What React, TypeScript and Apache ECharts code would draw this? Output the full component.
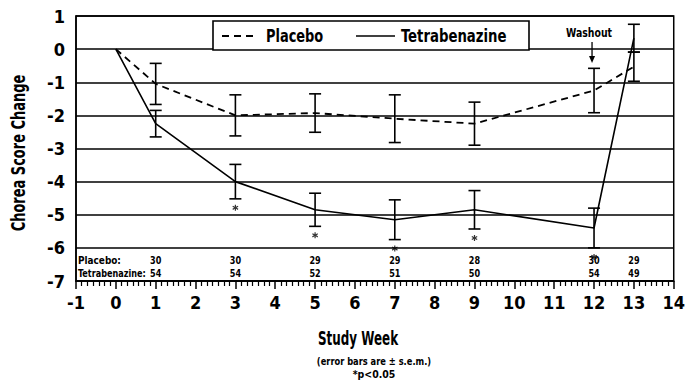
import React, { useEffect, useRef } from 'react';
import * as echarts from 'echarts';

const weeks = [0, 1, 3, 5, 7, 9, 12, 13];
const placeboMean = [0, -1.05, -2.0, -1.93, -2.1, -2.25, -1.25, -0.53];
const placeboSem = [0, 0.62, 0.62, 0.58, 0.72, 0.65, 0.67, 0.44];
const tetraMean = [0, -2.25, -4.0, -4.85, -5.15, -4.85, -5.4, 0.33];
const tetraSem = [0, 0.4, 0.52, 0.5, 0.6, 0.58, 0.6, 0.42];
const sigWeeks = [3, 5, 7, 9, 12];
const countWeeks = [1, 3, 5, 7, 9, 12, 13];
const placeboN = [30, 30, 29, 29, 28, 30, 29];
const tetraN = [54, 54, 52, 51, 50, 54, 49];
const X_MIN = -1;
const X_MAX = 14;
const Y_MIN = -7;
const Y_MAX = 1;
const washoutWeek = 12;

const F = "'DejaVu Sans Condensed', 'DejaVu Sans', sans-serif";
const ASTERISK =
  'path://M4,0L6,0L6,3.3L9,1.6L10,3.3L7,5L10,6.7L9,8.4L6,6.7L6,10L4,10L4,6.7L1,8.4L0,6.7L3,5L0,3.3L1,1.6L4,3.3Z';

const txt = (
  text: string,
  x: number,
  y: number,
  size: number,
  scaleX: number,
  align: string = 'left',
  extra: any = {}
) => ({
  type: 'text',
  x,
  y,
  scaleX,
  style: {
    text,
    x: 0,
    y: 0,
    align,
    verticalAlign: 'middle',
    fill: '#000',
    fontSize: size,
    fontWeight: 'bold',
    fontFamily: F,
  },
  ...extra,
});

export default function App() {
  const ref = useRef<HTMLDivElement>(null);
  useEffect(() => {
    const chart = echarts.init(ref.current!, null, { renderer: 'svg' });

    const errData = (mean: number[], sem: number[]) =>
      weeks
        .map((w, i) => [w, mean[i] - sem[i], mean[i] + sem[i]])
        .filter((d, i) => sem[i] > 0);

    const errRender = (params: any, api: any) => {
      const x = api.value(0);
      const top = api.coord([x, api.value(2)]);
      const bot = api.coord([x, api.value(1)]);
      const hw = 6;
      const st = { stroke: '#000', lineWidth: 1.6 };
      return {
        type: 'group',
        children: [
          { type: 'line', shape: { x1: top[0], y1: top[1], x2: bot[0], y2: bot[1] }, style: st },
          { type: 'line', shape: { x1: top[0] - hw, y1: top[1], x2: top[0] + hw, y2: top[1] }, style: st },
          { type: 'line', shape: { x1: bot[0] - hw, y1: bot[1], x2: bot[0] + hw, y2: bot[1] }, style: st },
        ],
      };
    };

    const starData = sigWeeks.map((w) => {
      const i = weeks.indexOf(w);
      return [w, tetraMean[i] - tetraSem[i]];
    });

    const option: any = {
      animation: false,
      backgroundColor: '#fff',
      grid: {
        left: 76,
        right: 2,
        top: 16,
        bottom: 111,
        show: true,
        borderColor: '#000',
        borderWidth: 1.5,
        backgroundColor: 'transparent',
      },
      xAxis: {
        type: 'value',
        min: X_MIN,
        max: X_MAX,
        interval: 1,
        axisLine: { show: true, onZero: false, lineStyle: { color: '#000', width: 1.5 } },
        axisTick: { show: true, length: 8, lineStyle: { color: '#000', width: 1.5 } },
        minorTick: { show: true, splitNumber: 7, length: 5, lineStyle: { color: '#000', width: 1.2 } },
        splitLine: { show: false },
        axisLabel: {
          color: '#000',
          fontSize: 18,
          fontWeight: 'bold',
          fontFamily: F,
          margin: 12,
          showMaxLabel: true,
        },
      },
      yAxis: {
        type: 'value',
        min: Y_MIN,
        max: Y_MAX,
        interval: 1,
        axisLine: { show: true, onZero: false, lineStyle: { color: '#000', width: 1.5 } },
        axisTick: { show: false },
        splitLine: { show: true, lineStyle: { color: '#000', width: 1.5 } },
        axisLabel: {
          color: '#000',
          fontSize: 18,
          fontWeight: 'bold',
          fontFamily: F,
          margin: 11,
        },
      },
      series: [
        {
          name: 'Placebo',
          type: 'line',
          data: weeks.map((w, i) => [w, placeboMean[i]]),
          symbol: 'none',
          lineStyle: { color: '#000', width: 1.8, type: [7, 5] },
          z: 3,
        },
        {
          name: 'Tetrabenazine',
          type: 'line',
          data: weeks.map((w, i) => [w, tetraMean[i]]),
          symbol: 'none',
          lineStyle: { color: '#000', width: 1.6 },
          z: 3,
        },
        {
          name: 'Placebo s.e.m.',
          type: 'custom',
          data: errData(placeboMean, placeboSem),
          renderItem: errRender,
          z: 4,
        },
        {
          name: 'Tetrabenazine s.e.m.',
          type: 'custom',
          data: errData(tetraMean, tetraSem),
          renderItem: errRender,
          z: 4,
        },
        {
          name: 'p<0.05',
          type: 'scatter',
          data: starData,
          symbol: ASTERISK,
          symbolSize: 6,
          symbolOffset: [0, 9],
          itemStyle: { color: '#000' },
          z: 4,
        },
        {
          name: 'N',
          type: 'custom',
          data: countWeeks.map((w, i) => [w, Y_MIN, placeboN[i], tetraN[i]]),
          renderItem: (params: any, api: any) => {
            const p = api.coord([api.value(0), api.value(1)]);
            return {
              type: 'group',
              children: [
                txt(String(api.value(2)), p[0], p[1] - 21, 11, 0.82, 'center'),
                txt(String(api.value(3)), p[0], p[1] - 8, 11, 0.82, 'center'),
              ],
            };
          },
          z: 4,
        },
        {
          name: 'Washout',
          type: 'custom',
          data: [[washoutWeek, Y_MAX]],
          clip: false,
          renderItem: (params: any, api: any) => {
            const p = api.coord([api.value(0), api.value(1)]);
            const ax = p[0] - 2;
            return {
              type: 'group',
              children: [
                txt('Washout', ax - 3, p[1] + 17, 13, 0.8, 'center'),
                { type: 'line', shape: { x1: ax, y1: p[1] + 26, x2: ax, y2: p[1] + 44 }, style: { stroke: '#000', lineWidth: 1.3 } },
                {
                  type: 'polygon',
                  shape: { points: [[ax - 3, p[1] + 40], [ax + 3, p[1] + 40], [ax, p[1] + 47]] },
                  style: { fill: '#000' },
                },
              ],
            };
          },
          z: 5,
        },
      ],
      graphic: [
        {
          type: 'rect',
          shape: { x: 213, y: 21, width: 316, height: 29 },
          style: { fill: '#fff', stroke: '#000', lineWidth: 1.6 },
          z: 10,
        },
        {
          type: 'line',
          shape: { x1: 222, y1: 36, x2: 258, y2: 36 },
          style: { stroke: '#000', lineWidth: 1.8, lineDash: [7, 5] },
          z: 11,
        },
        txt('Placebo', 266, 36, 18, 0.8, 'left', { z: 11 }),
        {
          type: 'line',
          shape: { x1: 356, y1: 36, x2: 395, y2: 36 },
          style: { stroke: '#000', lineWidth: 1.6 },
          z: 11,
        },
        txt('Tetrabenazine', 401, 36, 18, 0.82, 'left', { z: 11 }),
        txt('Chorea Score Change', 18, 153, 19, 0.76, 'center', { rotation: Math.PI / 2 }),
        txt('Study Week', 358, 339, 19, 0.7, 'center'),
        txt('(error bars are \u00b1 s.e.m.)', 374, 361, 11, 0.84, 'center'),
        txt('*p<0.05', 374, 374, 11, 0.95, 'center'),
        txt('Placebo:', 78, 260, 11, 0.9, 'left', { z: 6 }),
        txt('Tetrabenazine:', 78, 273, 11, 0.82, 'left', { z: 6 }),
      ],
    };

    chart.setOption(option);
    return () => chart.dispose();
  }, []);

  return (
    <div
      ref={ref}
      style={{ position: 'fixed', left: 0, top: 0, width: 688, height: 392, background: '#fff' }}
    />
  );
}
